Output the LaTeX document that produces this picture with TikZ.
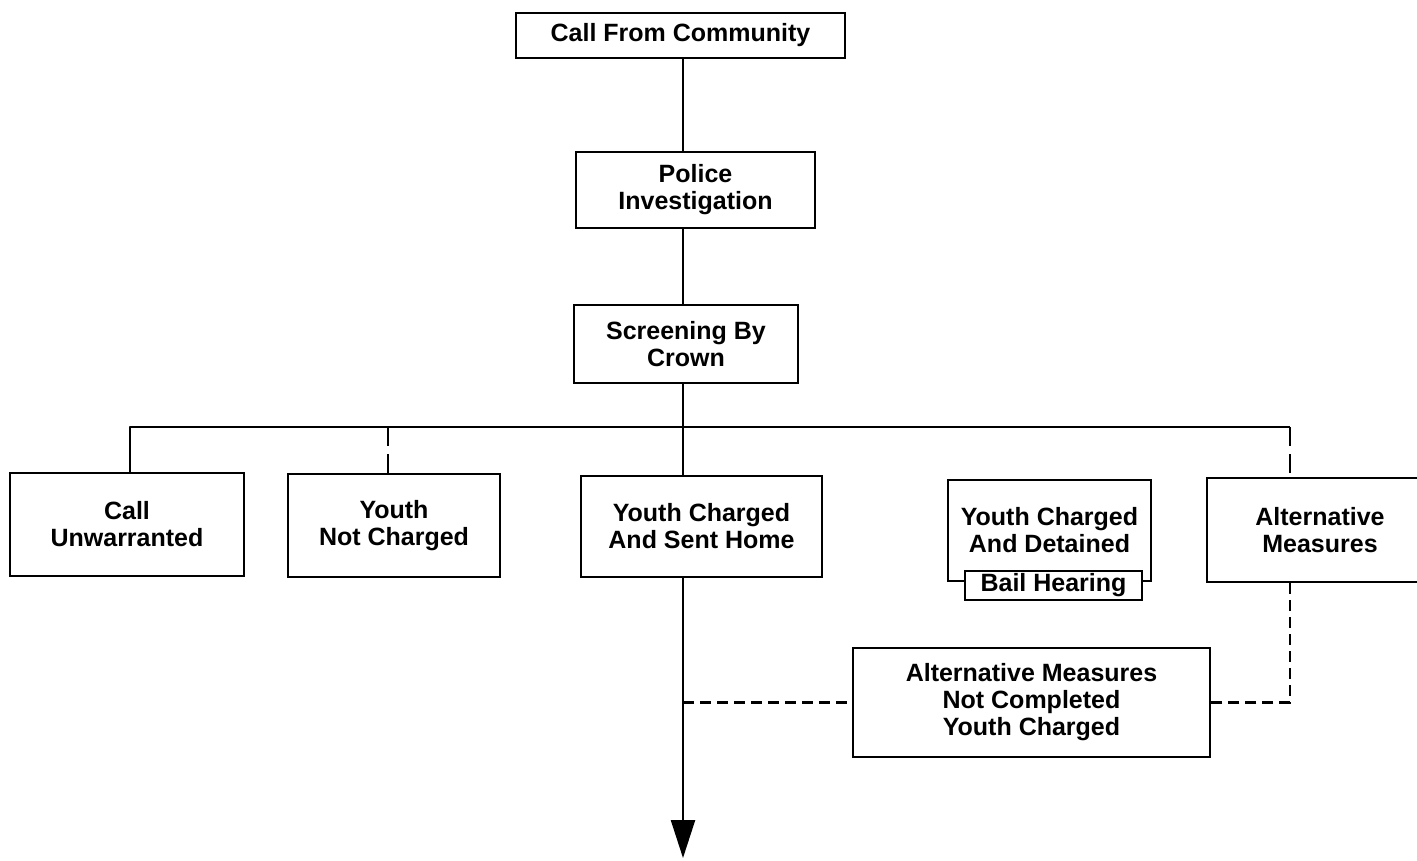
\documentclass[tikz,border=0pt]{standalone}
\usepackage{fontspec}
\setmainfont{Liberation Sans}
\usetikzlibrary{arrows.meta}
\begin{document}
\begin{tikzpicture}[x=1pt,y=-1pt,
  box/.style={draw, line width=2.4pt, align=center, inner sep=0pt, fill=white,
    font=\fontsize{25}{27}\selectfont\bfseries},
  ln/.style={line width=2.4pt},
  dsh/.style={line width=2.4pt, dash pattern=on 11pt off 6pt},
  brk/.style={line width=2.4pt, dash pattern=on 19pt off 8pt}]
\useasboundingbox (0,0) rectangle (1417,860);
\node[box, minimum width=329pt, minimum height=45pt] (top) at (680.5,35.5) {Call From Community};
\node[box, minimum width=239pt, minimum height=76pt] (pol) at (695.5,190) {Police\\Investigation};
\node[box, minimum width=224pt, minimum height=78pt] (scr) at (686,344) {Screening By\\Crown};
\node[box, minimum width=234pt, minimum height=103pt] (cu) at (127,524.5) {Call\\Unwarranted};
\node[box, minimum width=212pt, minimum height=103pt] (ync) at (394,525.5) {Youth\\Not Charged};
\node[box, minimum width=241pt, minimum height=101pt] (sh) at (701.5,526.5) {Youth Charged\\And Sent Home};
\node[box, minimum width=203pt, minimum height=101pt] (det) at (1049.5,530.5) {Youth Charged\\And Detained};
\node[box, minimum width=177pt, minimum height=29pt] (bail) at (1053.5,585.5) {Bail Hearing};
\node[box, minimum width=226pt, minimum height=104pt] (alt) at (1320,530) {Alternative\\Measures};
\node[box, minimum width=357pt, minimum height=109pt] (anc) at (1031.5,702.5) {Alternative Measures\\Not Completed\\Youth Charged};
\coordinate (spine) at (683,0);
\coordinate (bl) at (130,427);
\coordinate (bn) at (388,427);
\coordinate (br) at (1290,427);
\coordinate (end) at (683,858);
\draw[ln] (top.south -| spine) -- (pol.north -| spine);
\draw[ln] (pol.south -| spine) -- (scr.north -| spine);
\draw[ln] (scr.south -| spine) -- (sh.north -| spine);
\draw[ln, line join=round] (cu.north -| bl) -- (bl) -- (br);
\draw[brk] (bn) -- (ync.north -| bn);
\draw[brk] (br) -- (alt.north -| br);
\draw[ln, -{Triangle[width=24pt,length=38pt]}] (sh.south -| spine) -- (end);
\draw[dsh] (alt.south -| br) |- (anc.east);
\draw[dsh] (anc.west -| spine) -- (anc.west);
\end{tikzpicture}
\end{document}
